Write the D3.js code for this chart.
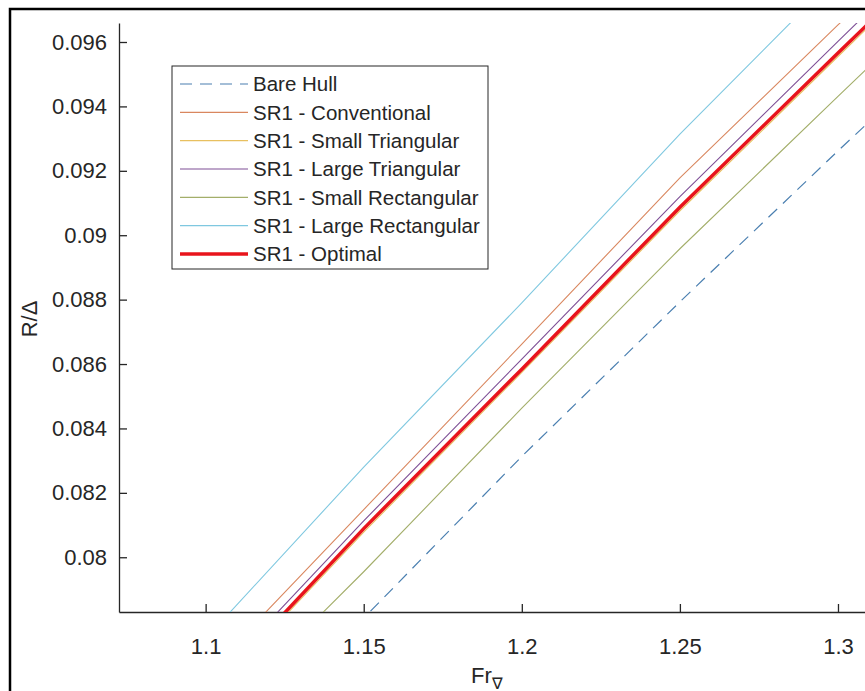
<!DOCTYPE html>
<html>
<head>
<meta charset="utf-8">
<script src="https://cdn.jsdelivr.net/npm/d3@7"></script>
<style>
  body { margin: 0; background: #fff; }
  svg { display: block; font-family: "Liberation Sans", Arial, sans-serif; }
</style>
</head>
<body>
<div id="chart"></div>
<script>
// Froude number (volumetric) sample points
const frValues = [1.10, 1.15, 1.20, 1.25, 1.30, 1.35];

// R/Delta for each configuration
const bareHull         = [0.07291, 0.07811, 0.08313, 0.08793, 0.09262, 0.09720];
const conventional     = [0.07634, 0.08148, 0.08662, 0.09178, 0.09653, 0.10120];
const smallTriangular  = [0.07556, 0.08078, 0.08574, 0.09076, 0.09555, 0.10030];
const largeTriangular  = [0.07592, 0.08113, 0.08615, 0.09120, 0.09602, 0.10080];
const smallRectangular = [0.07465, 0.07955, 0.08463, 0.08958, 0.09431, 0.09900];
const largeRectangular = [0.07747, 0.08280, 0.08790, 0.09314, 0.09808, 0.10300];
const optimal          = [0.07566, 0.08089, 0.08584, 0.09087, 0.09566, 0.10040];

const seriesNames = ["Bare Hull", "SR1 - Conventional", "SR1 - Small Triangular",
  "SR1 - Large Triangular", "SR1 - Small Rectangular", "SR1 - Large Rectangular", "SR1 - Optimal"];

const xTicks = [1.1, 1.15, 1.2, 1.25, 1.3];
const yTicks = [0.08, 0.082, 0.084, 0.086, 0.088, 0.09, 0.092, 0.094, 0.096];

function init() {
    var w = 865;
    var h = 691;

    // styles for each series, same order as seriesNames
    var styles = [
        { color: "#4a7fb0", width: 1.2, dash: "12,8" },
        { color: "#d9875f", width: 1.1 },
        { color: "#e8c060", width: 1.1 },
        { color: "#7e4f96", width: 1.1 },
        { color: "#a3ae6a", width: 1.1 },
        { color: "#7fc8e0", width: 1.1 },
        { color: "#e8141c", width: 3.5 }
    ];
    var allSeries = [bareHull, conventional, smallTriangular, largeTriangular,
        smallRectangular, largeRectangular, optimal];

    var svg = d3.select("#chart").append("svg")
        .attr("width", w)
        .attr("height", h);

    svg.append("rect").attr("width", w).attr("height", h).attr("fill", "#fff");

    // outer frame of the screenshot
    svg.append("rect")
        .attr("x", 10).attr("y", 9)
        .attr("width", 900).attr("height", 800)
        .attr("fill", "none")
        .attr("stroke", "#000")
        .attr("stroke-width", 2.5);

    var xScale = d3.scaleLinear()
        .domain([1.0726, 1.31])
        .range([119, 869.6]);
    var yScale = d3.scaleLinear()
        .domain([0.0783, 0.09659])
        .range([612, 23]);

    svg.append("defs").append("clipPath").attr("id", "plotClip")
        .append("rect")
        .attr("x", 119).attr("y", 23)
        .attr("width", w - 119).attr("height", 612 - 23);

    var fmt = d => String(+d.toFixed(3));

    // axes (ticks pointing inwards like MATLAB)
    var xAxis = svg.append("g")
        .attr("transform", "translate(0,612)")
        .call(d3.axisBottom(xScale).tickValues(xTicks).tickFormat(fmt)
            .tickSizeInner(-8).tickSizeOuter(0).tickPadding(26));
    var yAxis = svg.append("g")
        .attr("transform", "translate(119,0)")
        .call(d3.axisLeft(yScale).tickValues(yTicks).tickFormat(fmt)
            .tickSizeInner(-8).tickSizeOuter(0).tickPadding(12));

    [xAxis, yAxis].forEach(a => {
        a.select(".domain").attr("stroke", "#262626").attr("stroke-width", 1.3);
        a.selectAll(".tick line").attr("stroke", "#262626").attr("stroke-width", 1.3);
        a.selectAll(".tick text")
            .attr("fill", "#262626")
            .style("font-size", "22px")
            .style("font-family", "'Liberation Sans', Arial, sans-serif");
    });

    // lines
    var line = d3.line()
        .x((d, i) => xScale(frValues[i]))
        .y(d => yScale(d));

    var plot = svg.append("g").attr("clip-path", "url(#plotClip)");
    allSeries.forEach((s, i) => {
        plot.append("path")
            .datum(s)
            .attr("d", line)
            .attr("fill", "none")
            .attr("stroke", styles[i].color)
            .attr("stroke-width", styles[i].width)
            .attr("stroke-dasharray", styles[i].dash || null);
    });

    // axis labels
    svg.append("text")
        .attr("transform", "translate(37,319) rotate(-90)")
        .style("text-anchor", "middle")
        .style("font-size", "22px")
        .attr("fill", "#262626")
        .text("R/\u0394");

    var xl = svg.append("text")
        .attr("x", 471)
        .attr("y", 683)
        .style("font-size", "22px")
        .attr("fill", "#262626");
    xl.append("tspan").text("Fr");
    xl.append("tspan").attr("dy", 6).style("font-size", "16px").text("\u2207");

    // legend
    var legend = svg.append("g");
    legend.append("rect")
        .attr("x", 172).attr("y", 66)
        .attr("width", 316).attr("height", 203)
        .attr("fill", "#fff")
        .attr("stroke", "#262626")
        .attr("stroke-width", 1);

    var rowY = d3.scaleLinear().domain([0, 6]).range([84, 254]);
    seriesNames.forEach((name, i) => {
        legend.append("line")
            .attr("x1", 180).attr("x2", 248)
            .attr("y1", rowY(i)).attr("y2", rowY(i))
            .attr("stroke", styles[i].color)
            .attr("stroke-width", styles[i].width)
            .attr("stroke-dasharray", styles[i].dash || null);
        legend.append("text")
            .attr("x", 253)
            .attr("y", rowY(i))
            .attr("dy", "0.36em")
            .style("font-size", "20.5px")
            .attr("fill", "#262626")
            .text(name);
    });
}

window.onload = init;
</script>
</body>
</html>
